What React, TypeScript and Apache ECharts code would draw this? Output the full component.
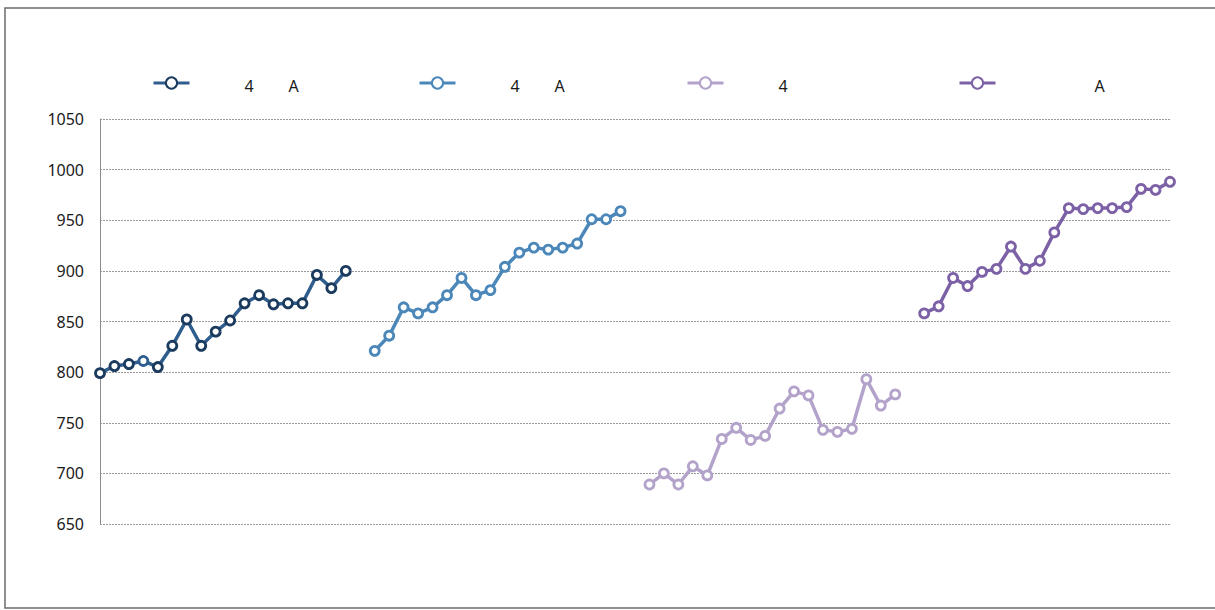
import React, { useEffect, useRef } from "react";
import * as echarts from "echarts";

const seriesNames = ["4 A", "4 A ", "4", "A"];
const seriesColors = ["#2f5d8e", "#4b87b9", "#b3a3cb", "#7c61a6"];
const markerBorders = ["#1b3b5e", "#4b87b9", "#b3a3cb", "#7c61a6"];

const gradeOne = [799, 806, 808, 811, 805, 826, 852, 826, 840, 851, 868, 876, 867, 868, 868, 896, 883, 900];
const gradeTwo = [821, 836, 864, 858, 864, 876, 893, 876, 881, 904, 918, 923, 921, 923, 927, 951, 951, 959];
const gradeThree = [689, 700, 689, 707, 698, 734, 745, 733, 737, 764, 781, 777, 743, 741, 744, 793, 767, 778];
const gradeFour = [858, 865, 893, 885, 899, 902, 924, 902, 910, 938, 962, 961, 962, 962, 963, 981, 980, 988];

const yTicks = [650, 700, 750, 800, 850, 900, 950, 1000, 1050];
const categoryCount = 75;
const categories = Array.from({ length: categoryCount }, (_, i) => String(i + 1));
const startIndices = [0, 19, 38, 57];

const legendLefts = [147, 413, 681, 953];

export default function App() {
  const ref = useRef<HTMLDivElement>(null);
  useEffect(() => {
    if (!ref.current) return;
    const chart = echarts.init(ref.current, undefined, { renderer: "svg" });
    const all = [gradeOne, gradeTwo, gradeThree, gradeFour];
    const series = all.map((vals, si) => {
      const data: any[] = categories.map(() => null);
      vals.forEach((v, i) => {
        if (si === 0 && i === 3) {
          data[startIndices[si] + i] = { value: v, itemStyle: { borderColor: seriesColors[0] } };
        } else {
          data[startIndices[si] + i] = v;
        }
      });
      return {
        name: seriesNames[si],
        type: "line",
        data,
        symbol: "circle",
        symbolSize: 9,
        showSymbol: true,
        connectNulls: false,
        lineStyle: { color: seriesColors[si], width: 3.5 },
        itemStyle: { color: "#ffffff", borderColor: markerBorders[si], borderWidth: 2.8 },
        emphasis: { disabled: true },
      };
    });
    const legendFormatter = (name: string) => {
      const n = name.trim();
      const f = n.includes("4") ? "4" : "\u00A0";
      const a = n.includes("A") ? "A" : "\u00A0";
      return `{g|\u00A0}{n|${f}}{h|\u00A0}{n|${a}}`;
    };
    const rich = {
      g: { width: 50 },
      n: { width: 10, fontSize: 16, fontFamily: "Noto Sans", color: "#1a1a1a", padding: [5, 0, 0, 0] },
      h: { width: 34 },
    };
    chart.setOption({
      animation: false,
      textStyle: { fontFamily: "Noto Sans" },
      legend: seriesNames.map((nm, i) => ({
        data: [nm],
        left: legendLefts[i],
        top: 70,
        itemWidth: 36,
        itemHeight: 14,
        itemGap: 0,
        selectedMode: false,
        formatter: legendFormatter,
        lineStyle: { width: 3 },
        textStyle: { rich, fontSize: 16, color: "#1a1a1a" },
      })),
      grid: { left: 100, right: 45, top: 119, bottom: 86, containLabel: false },
      xAxis: {
        type: "category",
        data: categories,
        boundaryGap: false,
        axisLine: { show: false },
        axisTick: { show: false },
        axisLabel: { show: false },
        splitLine: { show: false },
      },
      yAxis: {
        type: "value",
        min: yTicks[0],
        max: yTicks[yTicks.length - 1],
        interval: 50,
        axisLine: { show: true, lineStyle: { color: "#8c8c8c", width: 1 } },
        axisTick: { show: false },
        axisLabel: {
          color: "#1a1a1a",
          fontSize: 16,
          fontFamily: "Noto Sans",
          margin: 16,
          formatter: (v: number) => String(v),
        },
        splitLine: { show: true, lineStyle: { color: "#9a9a9a", type: [2, 1], width: 1 } },
      },
      graphic: [
        {
          type: "rect",
          shape: { x: 5, y: 8, width: 1240, height: 600 },
          style: { fill: "none", stroke: "#6b6b6b", lineWidth: 1.5 },
          silent: true,
          z: -1,
        },
      ],
      series,
    });
    return () => chart.dispose();
  }, []);
  return (
    <div
      ref={ref}
      style={{ position: "absolute", left: 0, top: 0, width: 1215, height: 610, background: "#ffffff" }}
    />
  );
}
